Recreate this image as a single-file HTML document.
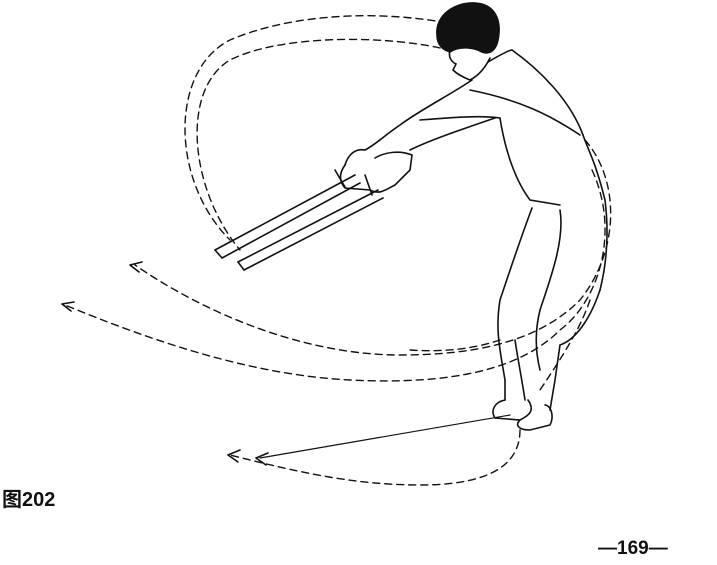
<!DOCTYPE html>
<html><head><meta charset="utf-8"><style>
html,body{margin:0;padding:0;background:#fff;width:717px;height:565px;overflow:hidden}
.t{position:absolute;font-family:"Liberation Sans","Noto Sans CJK SC",sans-serif;font-weight:bold;color:#111}
</style></head><body>
<svg width="717" height="565" style="position:absolute;left:0;top:0" fill="none" stroke="#111" stroke-width="1.6" stroke-linecap="round">
<!-- hair -->
<path d="M437,35 C435,15 455,2 475,3 C495,4 502,20 498,40 C496,50 490,55 482,52 C475,48 460,45 450,52 C443,50 437,45 437,35Z" fill="#111"/>
<!-- face -->
<path d="M450,50 C448,58 452,62 456,64 L453,70 C458,75 465,78 470,80 C478,76 485,68 490,58"/>
<!-- collar/back -->
<path d="M488,62 C500,55 510,50 512,50 C540,70 570,100 583,135"/>
<path d="M583,135 C588,150 595,160 605,200 C610,240 605,270 600,290"/>
<!-- arms -->
<path d="M472,80 C450,95 420,110 400,125 C385,135 375,145 365,150 C355,148 348,155 345,165"/>
<path d="M470,90 C520,100 550,115 580,135"/>
<path d="M420,120 C445,118 480,115 500,118"/>
<path d="M410,150 C430,140 460,130 495,118"/>
<path d="M345,165 C340,172 338,180 345,188 L370,190 C380,195 385,190 395,185 L410,170 L412,155 C400,150 385,152 375,158"/>
<!-- sticks -->
<path d="M215,250 L355,175 M222,258 L360,183"/>
<path d="M238,262 L378,190 M244,270 L383,198"/>
<path d="M215,250 L222,258 M238,262 L244,270"/>
<path d="M335,170 L345,187 M365,175 L372,195"/>
<!-- torso front & legs -->
<path d="M500,118 C505,150 515,180 530,200 L560,205"/>
<path d="M532,208 C520,240 510,270 500,300 C495,330 500,350 505,380 L505,400"/>
<path d="M560,210 C565,240 550,280 540,310 C535,330 535,350 540,370"/>
<path d="M600,290 C590,320 575,340 560,345 L555,380 L550,410"/>
<path d="M505,400 C495,402 490,410 495,418 L520,420 C530,415 535,410 528,400"/>
<path d="M520,420 C515,425 518,430 530,430 L550,425 C555,415 550,405 545,405"/>
<path d="M515,340 C518,360 522,380 525,400"/>
<!-- dashed trajectories -->
<g stroke-dasharray="7,5" stroke-width="1.4">
<path d="M470,28 C400,10 300,10 230,40 C170,70 170,180 230,240"/>
<path d="M440,48 C380,35 280,35 230,60 C180,90 190,190 240,250"/>
<path d="M585,140 C620,180 620,250 580,300 C540,340 480,355 400,355 C300,355 200,310 135,265"/>
<path d="M592,170 C620,230 600,300 560,330 C520,370 450,385 350,380 C250,375 150,340 65,305"/>
<path d="M590,300 C580,330 560,360 540,390"/>
<path d="M520,430 C520,470 480,485 420,485 C350,485 290,470 230,455"/>
<path d="M500,340 C470,350 440,352 410,350"/>
</g>
<path d="M510,415 L260,458" stroke-width="1.2"/>
<!-- arrowheads -->
<path d="M130,265 L142,262 M130,265 L139,272"/>
<path d="M62,304 L74,302 M62,304 L71,311"/>
<path d="M228,455 L240,450 M228,455 L238,462"/>
<path d="M256,458 L268,453 M256,458 L266,465"/>
</svg>
<div class="t" style="left:2px;top:483px;font-size:20px">图202</div>
<div class="t" style="left:598px;top:538px;font-size:19px">—169—</div>
</body></html>
